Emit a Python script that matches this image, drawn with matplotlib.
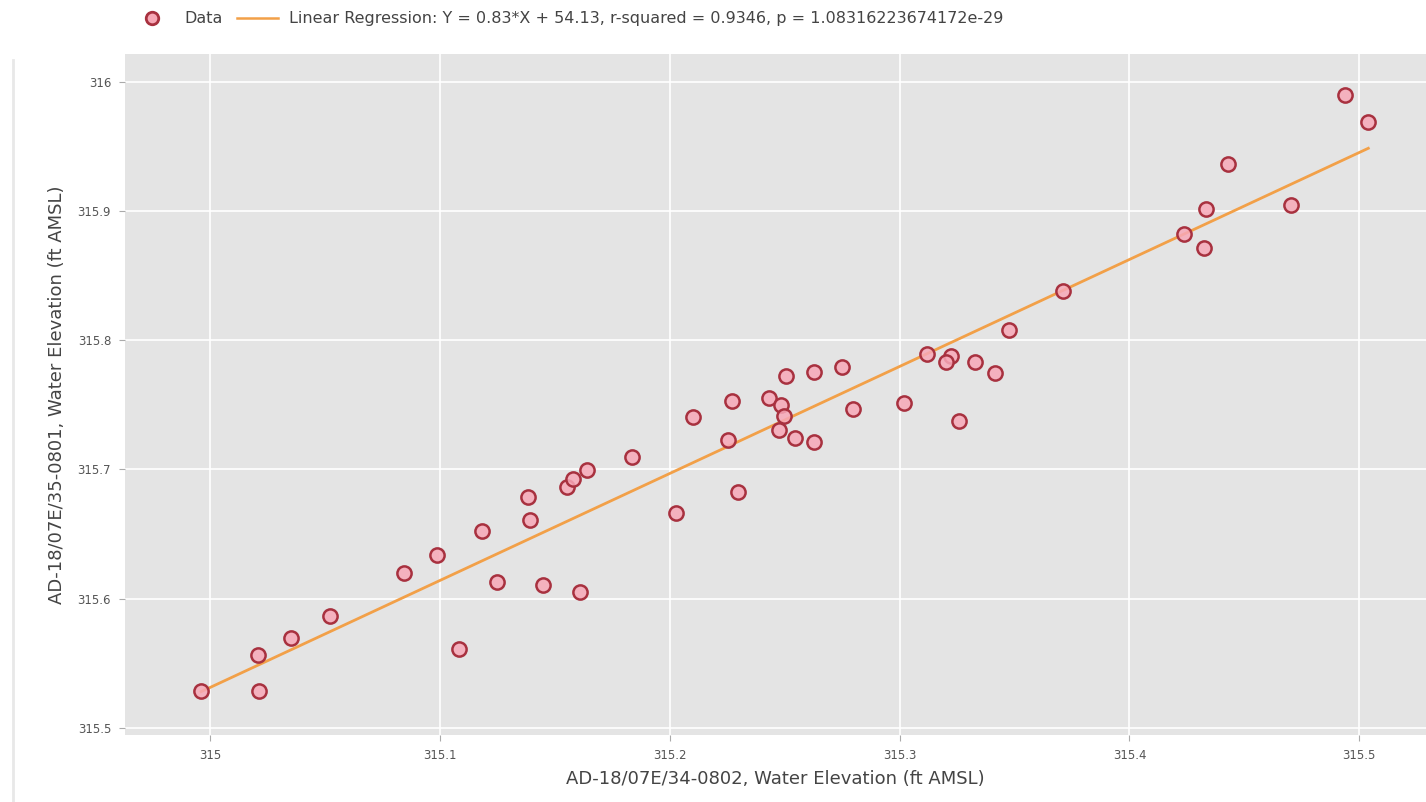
import numpy as np
import matplotlib
matplotlib.use("Agg")
import matplotlib.pyplot as plt
from matplotlib.lines import Line2D
from matplotlib.ticker import FuncFormatter

# --- datos ---
x_vals = [314.9961, 315.0207, 315.0211, 315.0353, 315.0522, 315.0844, 315.0989,
          315.1083, 315.1185, 315.1247, 315.1385, 315.1392, 315.1448, 315.1555,
          315.1577, 315.1639, 315.1610, 315.1837, 315.2026, 315.2102, 315.2255,
          315.2272, 315.2298, 315.2433, 315.2483, 315.2498, 315.2475, 315.2504,
          315.2545, 315.2629, 315.2628, 315.2748, 315.2799, 315.3019, 315.3121,
          315.3223, 315.3201, 315.3327, 315.3260, 315.3414, 315.3477, 315.3712,
          315.4239, 315.4323, 315.4331, 315.4427, 315.4701, 315.4938, 315.5039]
y_vals = [315.5283, 315.5564, 315.5286, 315.5693, 315.5866, 315.6201, 315.6338,
          315.5611, 315.6527, 315.6133, 315.6785, 315.6608, 315.6104, 315.6866,
          315.6923, 315.6995, 315.6054, 315.7099, 315.6661, 315.7404, 315.7228,
          315.7528, 315.6828, 315.7552, 315.7495, 315.7417, 315.7306, 315.7723,
          315.7240, 315.7754, 315.7211, 315.7790, 315.7468, 315.7517, 315.7893,
          315.7877, 315.7829, 315.7834, 315.7374, 315.7750, 315.8079, 315.8381,
          315.8822, 315.8711, 315.9015, 315.9363, 315.9046, 315.9897, 315.9690]

legend_fit = "Linear Regression: Y = 0.83*X + 54.13, r-squared = 0.9346, p = 1.08316223674172e-29"
x_title = "AD-18/07E/34-0802, Water Elevation (ft AMSL)"
y_title = "AD-18/07E/35-0801, Water Elevation (ft AMSL)"

x = np.array(x_vals)
y = np.array(y_vals)
slope, intercept = np.polyfit(x, y, 1)
x_line = np.array([x.min(), x.max()])
y_line = slope * x_line + intercept

# --- figura ---
fig = plt.figure(figsize=(14.26, 8.02), dpi=100)
ax = fig.add_axes([125 / 1426, 67 / 802, 1 - 125 / 1426, 681 / 802])
ax.set_facecolor("#e4e4e4")

ax.plot(x_line, y_line, color="#f2a048", lw=2, zorder=2)
ax.scatter(x, y, s=105, facecolor=(0.97, 0.66, 0.72, 0.85), edgecolor="#a8313f",
           linewidth=1.8, zorder=3)

ax.set_xlim(314.963, 315.529)
ax.set_ylim(315.4946, 316.0214)
ax.set_xticks([315, 315.1, 315.2, 315.3, 315.4, 315.5])
ax.set_yticks([315.5, 315.6, 315.7, 315.8, 315.9, 316])
fmt = FuncFormatter(lambda v, p: "%g" % round(v, 3))
ax.xaxis.set_major_formatter(fmt)
ax.yaxis.set_major_formatter(fmt)
ax.grid(color="white", lw=1.2)
ax.set_axisbelow(True)
for s in ax.spines.values():
    s.set_visible(False)
ax.tick_params(labelsize=8.5, length=4, width=0.8, pad=6, colors="#aaaaaa",
               labelcolor="#555555")

ax.set_xlabel(x_title, fontsize=13, color="#444444", labelpad=6)
ax.set_ylabel(y_title, fontsize=13, color="#444444", labelpad=8)

# leyenda arriba
handles = [
    Line2D([], [], ls="none", marker="o", markersize=9, markerfacecolor="#f7a8b6",
           markeredgecolor="#a8313f", markeredgewidth=2),
    Line2D([], [], color="#f2a048", lw=1.8),
]
fig.legend(handles, ["Data", legend_fit], loc="upper left", bbox_to_anchor=(0.082, 1.004),
           ncol=2, frameon=False, fontsize=11.5, labelcolor="#444444", handlelength=2.6,
           columnspacing=0.9, handletextpad=0.7)

# borde claro a la izquierda
fig.add_artist(Line2D([13 / 1426, 13 / 1426], [0, 1 - 60 / 802], color="#e8e8e8", lw=2,
                      transform=fig.transFigure))

plt.savefig("out.png", dpi=100)
